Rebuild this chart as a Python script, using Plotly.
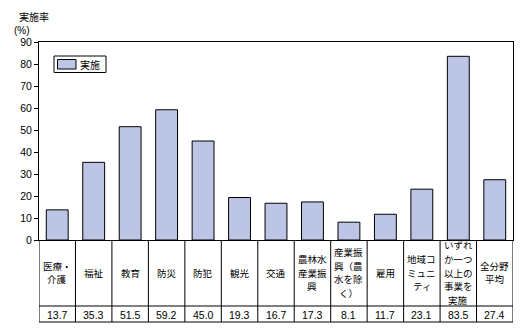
import plotly.graph_objects as go

categories = ["医療・<br>介護", "福祉", "教育", "防災", "防犯", "観光", "交通",
              "農林水<br>産業振<br>興", "産業振<br>興（農<br>水を除<br>く）", "雇用",
              "地域コ<br>ミュニ<br>ティ", "いずれ<br>か一つ<br>以上の<br>事業を<br>実施", "全分野<br>平均"]
values = [13.7, 35.3, 51.5, 59.2, 45.0, 19.3, 16.7, 17.3, 8.1, 11.7, 23.1, 83.5, 27.4]
value_labels = ["13.7", "35.3", "51.5", "59.2", "45.0", "19.3", "16.7", "17.3", "8.1", "11.7", "23.1", "83.5", "27.4"]
series_name = "実施"
y_ticks = [0, 10, 20, 30, 40, 50, 60, 70, 80, 90]

FONT = "Noto Sans CJK JP"
NUMFONT = "Liberation Sans"
BAR_COLOR = "#BCC5E6"
W, H = 524, 333
L, R, T, B = 39, 11, 42, 93
ph = H - T - B
pw = W - L - R


def py(p):  # pixel y (from top) -> paper y
    return (H - B - p) / ph


def px_(x):  # pixel x -> paper x
    return (x - L) / pw


n = len(categories)
xs = list(range(n))

fig = go.Figure()
fig.add_trace(go.Bar(x=xs, y=values, name=series_name,
                     marker=dict(color=BAR_COLOR, line=dict(color="black", width=1)),
                     width=0.6, showlegend=False))

TABLE_TOP = 240
ROW_SPLIT = 306
ROW_BOTTOM = 322

shapes = []
for i in range(n + 1):
    shapes.append(dict(type="line", xref="x", yref="paper", x0=i - 0.5, x1=i - 0.5,
                       y0=0, y1=py(ROW_BOTTOM), line=dict(color="black", width=1)))
for yy in (ROW_SPLIT, ROW_BOTTOM):
    shapes.append(dict(type="line", xref="x", yref="paper", x0=-0.5, x1=n - 0.5,
                       y0=py(yy), y1=py(yy), line=dict(color="black", width=1)))
# legend box
shapes.append(dict(type="rect", xref="paper", yref="paper", x0=px_(54), x1=px_(106),
                   y0=py(72.5), y1=py(56), line=dict(color="black", width=1), fillcolor="white"))
shapes.append(dict(type="rect", xref="paper", yref="paper", x0=px_(57.5), x1=px_(76),
                   y0=py(69), y1=py(59.5), line=dict(color="black", width=1), fillcolor=BAR_COLOR))

annotations = []
LINE_H = 13.8
cat_center = (TABLE_TOP + ROW_SPLIT) / 2 - 0.5
for i, (c, v) in enumerate(zip(categories, value_labels)):
    lines = c.split("<br>")
    k = len(lines)
    for j, ln in enumerate(lines):
        yc = cat_center + (j - (k - 1) / 2) * LINE_H
        annotations.append(dict(x=i, y=py(yc), xref="x", yref="paper", text=ln,
                                showarrow=False, font=dict(family=FONT, size=9.5, color="black"),
                                xanchor="center", yanchor="middle", borderpad=0))
    annotations.append(dict(x=i, y=py((ROW_SPLIT + ROW_BOTTOM) / 2 + 0.5), xref="x", yref="paper",
                            text=v, showarrow=False, borderpad=0,
                            font=dict(family=NUMFONT, size=10.5, color="black"),
                            xanchor="center", yanchor="middle"))
annotations.append(dict(x=px_(79), y=py(64), xref="paper", yref="paper", text=series_name,
                        showarrow=False, xanchor="left", yanchor="middle", borderpad=0,
                        font=dict(family=FONT, size=10, color="black")))
annotations.append(dict(x=px_(18), y=py(16), xref="paper", yref="paper", text="実施率",
                        showarrow=False, xanchor="left", yanchor="middle", borderpad=0,
                        font=dict(family=FONT, size=10, color="black")))
annotations.append(dict(x=px_(13), y=py(30), xref="paper", yref="paper", text="(%)",
                        showarrow=False, xanchor="left", yanchor="middle", borderpad=0,
                        font=dict(family=NUMFONT, size=10, color="black")))

fig.update_layout(
    width=W, height=H, margin=dict(l=L, r=R, t=T, b=B),
    paper_bgcolor="white", plot_bgcolor="white",
    xaxis=dict(range=[-0.5, n - 0.5], showticklabels=False, ticks="", showgrid=False,
               zeroline=False, showline=True, linecolor="black", linewidth=1, mirror=True),
    yaxis=dict(range=[0, 90], tickvals=y_ticks, ticks="outside", ticklen=4, tickcolor="black",
               showgrid=False, zeroline=False, showline=True, linecolor="black", linewidth=1,
               mirror=True, tickfont=dict(family=NUMFONT, size=10.5, color="black")),
    shapes=shapes, annotations=annotations, showlegend=False,
)
fig.write_html("out.html")
